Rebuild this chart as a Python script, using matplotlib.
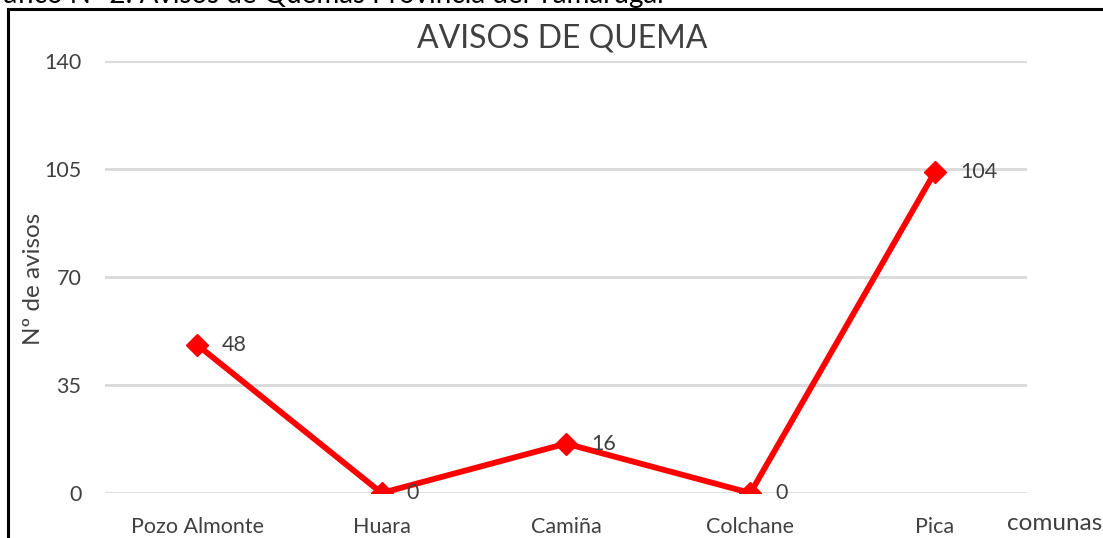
import matplotlib
matplotlib.use("Agg")
import matplotlib.pyplot as plt
from matplotlib.patches import Rectangle

categories = ["Pozo Almonte", "Huara", "Camiña", "Colchane", "Pica"]
values = [48, 0, 16, 0, 104]
yticks = [0, 35, 70, 105, 140]

plt.rcParams['font.family'] = ['Lato', 'DejaVu Sans']

W, H = 1103, 538
fig = plt.figure(figsize=(W / 100, H / 100), dpi=100)
ax = fig.add_axes([105 / W, 1 - 493 / H, (1027 - 105) / W, (493 - 61) / H])

x = list(range(len(categories)))
ax.plot(x, values, color='#ff0000', lw=4.2, marker='D', ms=11, zorder=3,
        solid_joinstyle='miter')
for xi, v in zip(x, values):
    ax.annotate(str(v), (xi, v), xytext=(18, 0), textcoords='offset points',
                va='center', ha='left', fontsize=15.5, color='#404040')

ax.set_xlim(-0.5, len(categories) - 0.5)
ax.set_ylim(0, 140)
ax.set_yticks(yticks)
ax.set_xticks(x)
ax.set_xticklabels(categories)
ax.tick_params(axis='both', length=0, labelsize=15.5, labelcolor='#404040')
ax.tick_params(axis='x', pad=17)
ax.tick_params(axis='y', pad=17)
ax.grid(axis='y', color='#d9d9d9', lw=2)
ax.set_axisbelow(True)
for s in ax.spines.values():
    s.set_visible(False)

fig.text(562 / W, 1 - 38 / H, "AVISOS DE QUEMA", ha='center', va='center',
         fontsize=23, color='#404040')
fig.text(33 / W, 1 - 279 / H, "Nº de avisos", rotation=90, ha='center',
         va='center', fontsize=17.5, color='#404040')
fig.text(1055 / W, 1 - 524 / H, "comunas", ha='center', va='center',
         fontsize=17.5, color='#404040')
fig.text(-27 / W, 1 - 3 / H, "Gráfico N° 2: Avisos de Quemas Provincia del Tamarugal",
         ha='left', va='baseline', fontsize=20, color='black')

fig.patches.append(Rectangle((8 / W, -0.1), 1.2, 1 - 9 / H + 0.1,
                             transform=fig.transFigure, fill=False,
                             edgecolor='black', lw=2.2))

fig.savefig("out.png", dpi=100)
